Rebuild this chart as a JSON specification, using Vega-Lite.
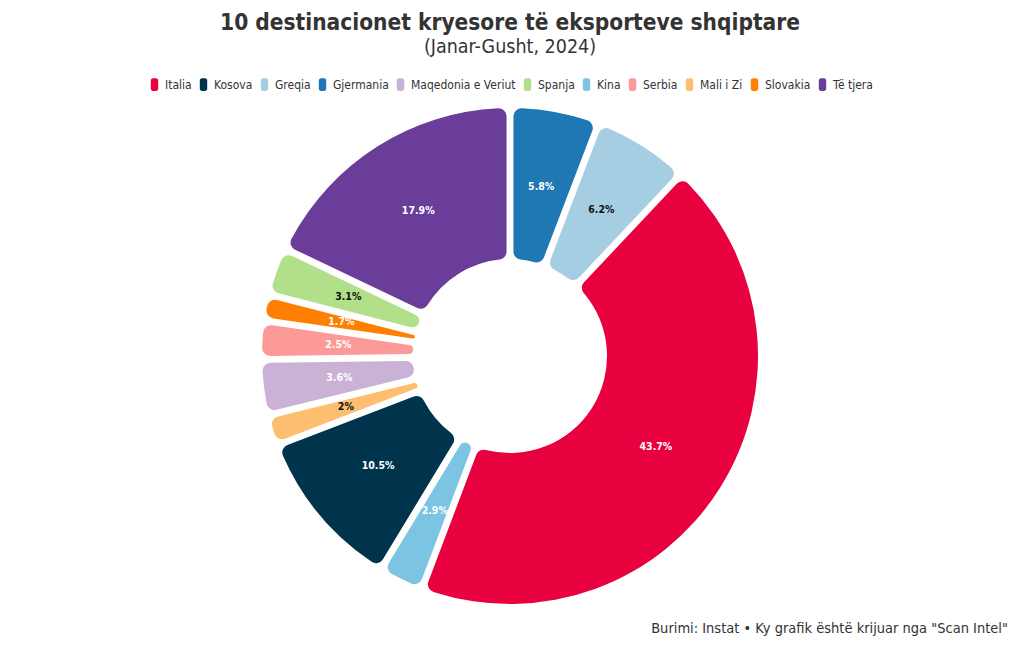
{
  "$schema": "https://vega.github.io/schema/vega-lite/v6.json",
  "autosize": {"type": "pad"},
  "padding": {"top": 12, "left": 5, "right": 5, "bottom": 0},
  "background": "white",
  "title": {
    "text": "10 destinacionet kryesore të eksporteve shqiptare",
    "subtitle": "(Janar-Gusht, 2024)",
    "anchor": "middle",
    "font": "DejaVu Sans Condensed",
    "fontSize": 22.5,
    "fontWeight": "bold",
    "color": "#333333",
    "subtitleFont": "DejaVu Sans Condensed",
    "subtitleFontSize": 19.5,
    "subtitleColor": "#333333",
    "subtitlePadding": 3,
    "offset": 21
  },
  "config": {
    "view": {"stroke": null},
    "concat": {"spacing": 0},
    "legend": {"layout": {"top": {"anchor": "middle"}}}
  },
  "datasets": {
    "exports": [
      {"country": "Italia", "value": 43.7},
      {"country": "Kosova", "value": 10.5},
      {"country": "Greqia", "value": 6.2},
      {"country": "Gjermania", "value": 5.8},
      {"country": "Maqedonia e Veriut", "value": 3.6},
      {"country": "Spanja", "value": 3.1},
      {"country": "Kina", "value": 2.9},
      {"country": "Serbia", "value": 2.5},
      {"country": "Mali i Zi", "value": 2.0},
      {"country": "Slovakia", "value": 1.7},
      {"country": "Të tjera", "value": 17.9}
    ]
  },
  "vconcat": [
    {
      "width": 1010,
      "height": 492,
      "title": {
        "text": "Burimi: Instat • Ky grafik është krijuar nga \"Scan Intel\"",
        "orient": "bottom",
        "anchor": "end",
        "font": "DejaVu Sans Condensed",
        "fontSize": 14.5,
        "fontWeight": "normal",
        "color": "#333333",
        "offset": 18,
        "dx": -7
      },
      "data": {"name": "exports"},
      "transform": [
        {"calculate": "format(datum.value, '.1~f') + '%'", "as": "label"}
      ],
      "encoding": {
        "theta": {"field": "value", "type": "quantitative", "stack": true},
        "order": {"field": "country", "type": "nominal", "sort": "ascending"}
      },
      "layer": [
        {
          "mark": {"type": "arc", "innerRadius": 97, "outerRadius": 248, "padAngle": 0.026, "cornerRadius": 8},
          "encoding": {
            "color": {
              "field": "country",
              "type": "nominal",
              "scale": {
                "domain": ["Italia", "Kosova", "Greqia", "Gjermania", "Maqedonia e Veriut", "Spanja", "Kina", "Serbia", "Mali i Zi", "Slovakia", "Të tjera"],
                "range": ["#E8003F", "#00344D", "#A6CEE3", "#1F78B4", "#CAB2D6", "#B2DF8A", "#7BC5E3", "#FB9A99", "#FDBF6F", "#FF7F00", "#6A3D9A"]
              },
              "legend": {
                "orient": "top",
                "direction": "horizontal",
                "title": null,
                "labelFont": "DejaVu Sans Condensed",
                "labelFontSize": 12,
                "labelColor": "#333333",
                "symbolType": "M-0.5,-0.55 A0.3,0.3 0 0 1 -0.2,-0.85 L0.2,-0.85 A0.3,0.3 0 0 1 0.5,-0.55 L0.5,0.55 A0.3,0.3 0 0 1 0.2,0.85 L-0.2,0.85 A0.3,0.3 0 0 1 -0.5,0.55 Z",
                "symbolSize": 220,
                "symbolStrokeWidth": 0,
                "symbolOpacity": 1,
                "labelOffset": 3,
                "columnPadding": 4,
                "offset": 17
              }
            }
          }
        },
        {
          "mark": {"type": "text", "radius": 172, "font": "DejaVu Sans Condensed", "fontSize": 10.5, "fontWeight": "bold"},
          "encoding": {
            "text": {"field": "label", "type": "nominal"},
            "color": {
              "condition": {"test": "indexof(['Greqia', 'Spanja', 'Mali i Zi'], datum.country) >= 0", "value": "#111111"},
              "value": "#ffffff"
            }
          }
        }
      ]
    }
  ]
}
